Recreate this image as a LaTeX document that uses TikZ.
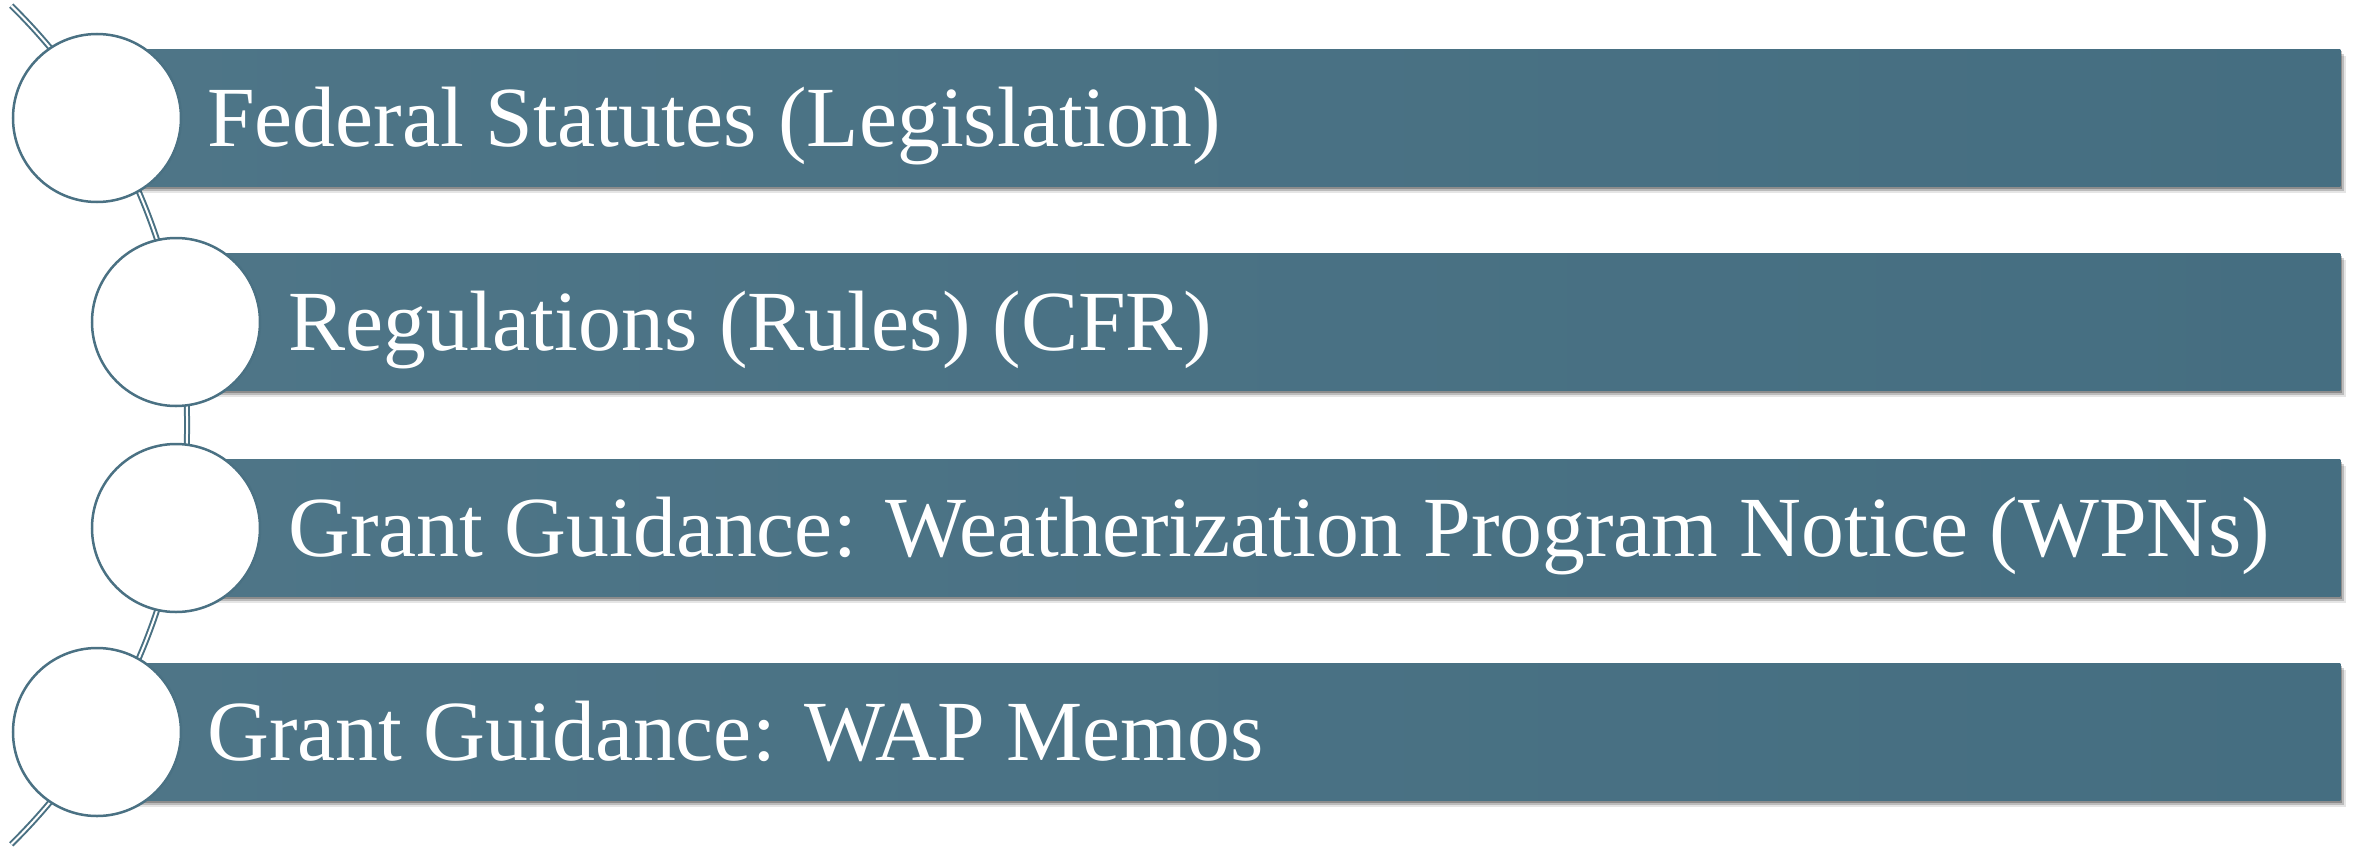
\documentclass[tikz,border=0pt]{standalone}
\usepackage{fontspec}
\setmainfont{Liberation Serif}
\usetikzlibrary{shadows}
\definecolor{barL}{RGB}{78,117,135}
\definecolor{barR}{RGB}{69,110,129}
\definecolor{ringc}{RGB}{74,113,131}
\begin{document}
\begin{tikzpicture}[x=1bp,y=-1bp,
  bar/.style={anchor=west, minimum height=137bp, inner sep=0pt, draw=none,
    left color=barL, right color=barR,
    drop shadow={shadow xshift=6bp,shadow yshift=-6bp,fill=black,opacity=.10},
    drop shadow={shadow xshift=4bp,shadow yshift=-4bp,fill=black,opacity=.18},
    drop shadow={shadow xshift=2bp,shadow yshift=-2bp,fill=black,opacity=.25}},
  ring/.style={circle, draw=ringc, line width=2.5bp, fill=white, minimum size=168bp, inner sep=0pt},
  lbl/.style={anchor=base west, text=white, inner sep=0pt, font=\fontsize{86}{100}\selectfont},
  chain/.style={draw=ringc, line width=2bp, double=white, double distance=2bp}]
  \useasboundingbox[fill=white] (0,0) rectangle (2356,850);
  % chain arc behind everything
  \coordinate (arctop) at (11.2,5.6);
  \draw[chain] (arctop) arc[start angle=-45.5, end angle=45.5, radius=588];
  % bars
  \node[bar, minimum width=2243bp] (b1) at (97,118) {};
  \node[bar, minimum width=2164bp] (b2) at (176,322) {};
  \node[bar, minimum width=2164bp] (b3) at (176,528) {};
  \node[bar, minimum width=2243bp] (b4) at (97,732) {};
  % circles
  \node[ring] (c1) at (97,118) {};
  \node[ring] (c2) at (176,322) {};
  \node[ring] (c3) at (176,528) {};
  \node[ring] (c4) at (97,732) {};
  % labels
  \node[lbl] (t1) at (207,146) {Federal Statutes (Legislation)};
  \node[lbl] (t2) at (288,350) {Regulations (Rules) (CFR)};
  \node[lbl] (t3) at (288,556) {Grant Guidance: Weatherization Program Notice (WPNs)};
  \node[lbl] (t4) at (207,760) {Grant Guidance: WAP Memos};
\end{tikzpicture}
\end{document}
